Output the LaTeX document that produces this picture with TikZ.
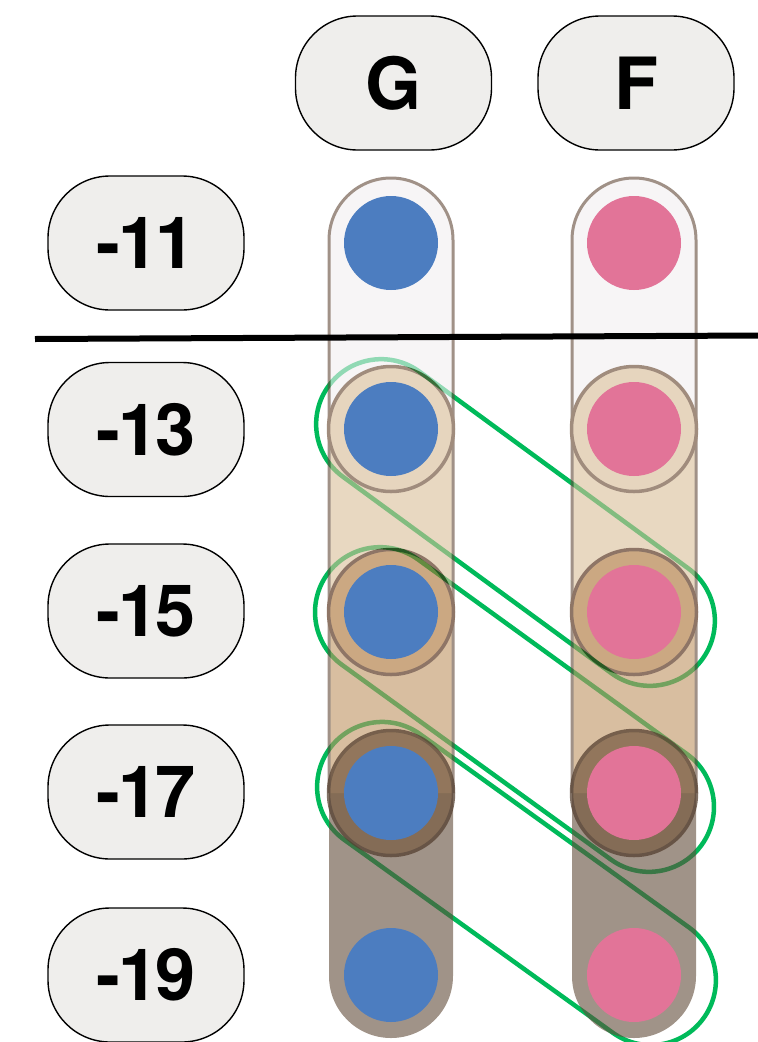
\documentclass[tikz,border=0pt]{standalone}
\usepackage{fontspec}
\setmainfont{TeX Gyre Heros}
\newfontfamily\labelfont[LetterSpace=-3]{TeX Gyre Heros}
\definecolor{pillfill}{RGB}{239,238,236}
\definecolor{loopgreen}{RGB}{0,186,90}
\definecolor{dotblue}{RGB}{76,125,192}
\definecolor{dotpink}{RGB}{226,116,152}
\definecolor{colLight}{RGB}{242,238,240}
\definecolor{colTan}{RGB}{217,190,152}
\definecolor{colMid}{RGB}{190,147,97}
\definecolor{colDark}{RGB}{97,75,57}
\definecolor{colBorder}{RGB}{97,72,55}
\definecolor{ringAfill}{RGB}{213,185,147}
\definecolor{ringAdraw}{RGB}{97,63,38}
\definecolor{ringBfill}{RGB}{168,110,47}
\definecolor{ringBdraw}{RGB}{67,25,0}
\definecolor{ringCfill}{RGB}{123,95,69}
\definecolor{ringCdraw}{RGB}{85,64,48}
\tikzset{
  pill/.style={draw=black, line width=1.4pt, fill=pillfill, rounded corners=62pt,
    minimum width=196pt, minimum height=134pt, inner sep=0pt,
    font=\labelfont\fontsize{72}{80}\selectfont\bfseries},
  loopbox/.style={draw=loopgreen, line width=4.5pt, rounded corners=65pt,
    minimum height=130pt, inner sep=0pt},
  dotG/.style={circle, fill=dotblue, minimum size=94pt, inner sep=0pt},
  dotF/.style={circle, fill=dotpink, minimum size=94pt, inner sep=0pt},
  ringA/.style={fill=ringAfill, draw=ringAdraw, line width=3.5pt},
  ringB/.style={fill=ringBfill, draw=ringBdraw, line width=3.5pt},
  ringC/.style={fill=ringCfill, draw=ringCdraw, line width=3.5pt},
  coledge/.style={draw=colBorder, line width=3pt, rounded corners=62pt},
  divider/.style={line width=6pt, black}
}
\begin{document}
\begin{tikzpicture}[x=1pt,y=-1pt]
\useasboundingbox (0,0) rectangle (758,1042);

% green loops (underneath the translucent columns)
\node[loopbox, minimum width=463pt, rotate=-36.2] (loop1) at (515.5,522.5) {};
\node[loopbox, minimum width=462pt, rotate=-35.9] (loop2) at (514.5,709.5) {};
\node[loopbox, minimum width=461pt, rotate=-35.7] (loop3) at (516.5,883.5) {};

% translucent columns
\begin{scope}[transparency group, opacity=0.6]
\foreach \x in {391,634}{
  \fill[colLight, rounded corners=62pt] (\x-62,178) rectangle (\x+62,491);
  \fill[colDark, rounded corners=62pt] (\x-62,700) rectangle (\x+62,1038);
  \fill[colTan] (\x-62,429) rectangle (\x+62,612);
  \fill[colMid] (\x-62,612) rectangle (\x+62,793);
  \draw[coledge] (\x-62,793) -- (\x-62,178) -- (\x+62,178) -- (\x+62,793);
  \draw[ringA] (\x,429) circle[radius=62.5];
  \draw[ringB] (\x,612) circle[radius=62.5];
}
\end{scope}
\begin{scope}[transparency group, opacity=0.75]
\foreach \x in {391,634}{
  \draw[ringC] (\x,793) circle[radius=62.5];
}
\end{scope}

% dots
\node[dotG] (g11) at (391,243) {};
\node[dotG] (g13) at (391,429) {};
\node[dotG] (g15) at (391,612) {};
\node[dotG] (g17) at (391,793) {};
\node[dotG] (g19) at (391,975) {};
\node[dotF] (f11) at (634,243) {};
\node[dotF] (f13) at (634,429) {};
\node[dotF] (f15) at (634,612) {};
\node[dotF] (f17) at (634,793) {};
\node[dotF] (f19) at (634,975) {};

% divider line
\coordinate (dl) at (35,339);
\coordinate (dr) at (758,335.5);
\draw[divider] (dl) -- (dr);

% header pills
\node[pill] (hG) at (393.5,83) {G};
\node[pill] (hF) at (636,83) {F};

% row label pills
\node[pill] (r11) at (146,243) {-11};
\node[pill] (r13) at (146,429.5) {-13};
\node[pill] (r15) at (146,611) {-15};
\node[pill] (r17) at (146,792) {-17};
\node[pill] (r19) at (146,975) {-19};
\end{tikzpicture}
\end{document}
